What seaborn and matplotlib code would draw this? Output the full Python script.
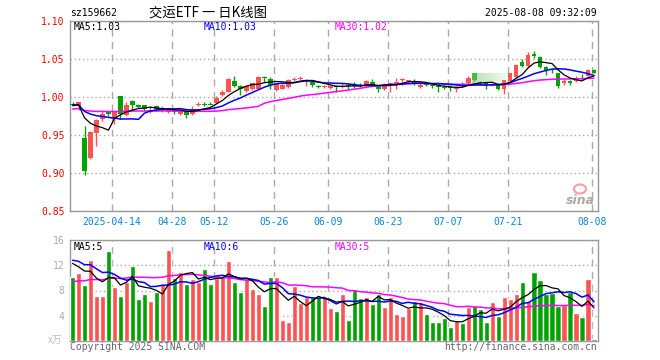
import numpy as np
import pandas as pd
import seaborn as sns
import matplotlib
matplotlib.use("Agg")
import matplotlib.pyplot as plt
from matplotlib.patches import Ellipse

# trading days shown (2025-04-02 .. 2025-08-08, mainland holidays removed)
dates = pd.bdate_range("2025-04-02", "2025-08-08")
holidays = pd.to_datetime(["2025-04-04", "2025-05-01", "2025-05-02", "2025-05-05", "2025-06-02"])
dates = dates[~dates.isin(holidays)]

open_ = [0.991, 0.988, 0.946, 0.920, 0.953, 0.971, 0.981, 0.971, 1.001, 0.976,
         0.995, 0.990, 0.989, 0.980, 0.988, 0.983, 0.980, 0.982, 0.978, 0.980,
         0.977, 0.990, 0.991, 0.991, 0.992, 1.002, 1.007, 1.021, 1.015, 1.008,
         1.010, 1.011, 1.026, 1.024, 1.009, 1.011, 1.013, 1.023, 1.024, 1.021,
         1.020, 1.014, 1.013, 1.012, 1.014, 1.013, 1.016, 1.016, 1.015, 1.016,
         1.020, 1.013, 1.010, 1.016, 1.016, 1.023, 1.021, 1.019, 1.013, 1.017,
         1.016, 1.014, 1.013, 1.013, 1.011, 1.016, 1.018, 1.031, 1.019, 1.018,
         1.015, 1.016, 1.011, 1.021, 1.026, 1.046, 1.041, 1.056, 1.053, 1.040,
         1.036, 1.031, 1.018, 1.021, 1.021, 1.028, 1.028, 1.036]
high = [0.993, 0.994, 0.962, 0.955, 0.971, 0.983, 0.982, 0.981, 1.001, 0.994,
        0.996, 0.991, 0.990, 0.988, 0.989, 0.988, 0.985, 0.983, 0.982, 0.981,
        0.988, 0.994, 0.993, 0.993, 1.001, 1.009, 1.025, 1.028, 1.016, 1.016,
        1.019, 1.027, 1.028, 1.026, 1.018, 1.018, 1.024, 1.026, 1.027, 1.024,
        1.021, 1.016, 1.016, 1.016, 1.016, 1.018, 1.018, 1.020, 1.018, 1.022,
        1.024, 1.016, 1.018, 1.019, 1.025, 1.025, 1.023, 1.024, 1.020, 1.019,
        1.017, 1.017, 1.016, 1.016, 1.015, 1.020, 1.027, 1.032, 1.021, 1.020,
        1.019, 1.018, 1.023, 1.032, 1.043, 1.050, 1.059, 1.061, 1.054, 1.041,
        1.037, 1.032, 1.024, 1.023, 1.028, 1.030, 1.037, 1.037]
low = [0.988, 0.983, 0.897, 0.918, 0.935, 0.969, 0.975, 0.965, 0.971, 0.975,
       0.983, 0.985, 0.981, 0.979, 0.981, 0.980, 0.979, 0.977, 0.976, 0.972,
       0.976, 0.988, 0.988, 0.989, 0.991, 1.001, 1.006, 1.013, 1.002, 1.007,
       1.009, 1.010, 1.020, 1.010, 1.008, 1.010, 1.012, 1.021, 1.022, 1.014,
       1.013, 1.012, 1.012, 1.011, 1.007, 1.012, 1.010, 1.012, 1.013, 1.015,
       1.014, 1.006, 1.009, 1.007, 1.010, 1.016, 1.019, 1.016, 1.012, 1.014,
       1.012, 1.007, 1.010, 1.008, 1.007, 1.013, 1.017, 1.021, 1.016, 1.011,
       1.014, 1.009, 1.004, 1.020, 1.025, 1.040, 1.040, 1.051, 1.038, 1.029,
       1.031, 1.012, 1.016, 1.016, 1.020, 1.023, 1.027, 1.031]
close = [0.989, 0.993, 0.903, 0.954, 0.970, 0.978, 0.977, 0.980, 0.978, 0.989,
         0.990, 0.987, 0.984, 0.983, 0.984, 0.985, 0.984, 0.980, 0.981, 0.976,
         0.984, 0.991, 0.990, 0.990, 0.999, 1.007, 1.024, 1.015, 1.011, 1.014,
         1.018, 1.026, 1.025, 1.016, 1.017, 1.016, 1.022, 1.024, 1.025, 1.022,
         1.016, 1.013, 1.014, 1.015, 1.013, 1.015, 1.015, 1.015, 1.014, 1.021,
         1.016, 1.010, 1.017, 1.018, 1.020, 1.024, 1.022, 1.018, 1.016, 1.016,
         1.014, 1.013, 1.012, 1.012, 1.012, 1.015, 1.025, 1.022, 1.018, 1.015,
         1.017, 1.011, 1.022, 1.031, 1.042, 1.041, 1.055, 1.054, 1.040, 1.036,
         1.035, 1.014, 1.021, 1.019, 1.025, 1.027, 1.035, 1.032]
# volume, 万手
volume = [10.1, 10.8, 8.8, 12.9, 7.2, 7.2, 14.2, 8.5, 7.2, 9.4,
          11.9, 6.7, 7.4, 6.4, 7.7, 9.0, 14.4, 10.0, 11.0, 9.0,
          9.8, 9.3, 11.4, 9.1, 10.0, 10.1, 12.6, 9.3, 7.8, 9.9,
          8.2, 7.5, 5.6, 10.2, 10.1, 3.4, 3.0, 8.7, 6.0, 6.9,
          6.9, 6.9, 6.9, 5.3, 4.8, 7.4, 3.4, 8.2, 6.8, 7.0,
          5.9, 7.5, 5.4, 7.0, 4.3, 4.0, 5.3, 6.4, 6.2, 4.3,
          3.0, 3.0, 3.7, 2.2, 3.4, 2.9, 5.4, 5.6, 5.1, 3.0,
          6.2, 4.0, 6.9, 6.6, 7.4, 9.4, 6.4, 11.0, 9.6, 7.5,
          7.6, 5.6, 5.7, 7.8, 4.5, 3.8, 9.8, 0.3]
# sessions before the window, only needed so the moving averages start filled
pre_close = [0.978, 0.977, 0.979, 0.981, 0.980, 0.982, 0.979, 0.978, 0.980, 0.983,
             0.982, 0.984, 0.985, 0.983, 0.981, 0.982, 0.984, 0.986, 0.985, 0.987,
             0.988, 0.990, 0.989, 0.991, 0.988, 0.990, 0.989, 0.990, 0.988]
pre_volume = [7.2, 8.1, 6.9, 7.5, 8.4, 7.0, 7.9, 8.6, 7.3, 6.8,
              7.7, 8.2, 7.4, 8.0, 7.1, 7.9, 8.3, 7.6, 7.8, 8.3,
              12.6, 14.1, 13.0, 13.8, 13.0, 13.5, 12.2, 13.1, 12.6]

tick_dates = ["2025-04-14", "2025-04-28", "2025-05-12", "2025-05-26", "2025-06-09",
              "2025-06-23", "2025-07-07", "2025-07-21", "2025-08-08"]
tick_labels = ["2025-04-14", "04-28", "05-12", "05-26", "06-09",
               "06-23", "07-07", "07-21", "08-08"]

RED = "#ff5252"
GREEN = "#00a300"
GRID = "#aaaaaa"

n_pre = len(pre_close)
df = pd.DataFrame({"date": dates, "open": open_, "high": high, "low": low,
                   "close": close, "volume": volume})
df["i"] = np.arange(len(df))
df["up"] = df["close"] >= df["open"]
allc = pd.Series(pre_close + close)
allv = pd.Series(pre_volume + volume)
for n in (5, 10, 30):
    df[f"ma{n}"] = allc.rolling(n).mean().iloc[n_pre:].values
    df[f"vma{n}"] = allv.rolling(n).mean().iloc[n_pre:].values

sns.set_theme(style="white")
plt.rcParams["font.family"] = ["DejaVu Sans Mono", "Noto Sans CJK SC"]

W, H = 660, 360
fig = plt.figure(figsize=(6.6, 3.6), dpi=100)
ax1 = fig.add_axes([70 / W, 1 - 211 / H, 528 / W, 190 / H])
ax2 = fig.add_axes([70 / W, 1 - 341 / H, 528 / W, 101 / H])

tick_pos = [df.index[df["date"] == pd.Timestamp(d)][0] - 0.4 for d in tick_dates]

# candles
up = df[df["up"]]
dn = df[~df["up"]]
for part, col in ((up, RED), (dn, GREEN)):
    ax1.vlines(part["i"], part["low"], part["high"], color=col, lw=1, zorder=3)
    body = (part["close"] - part["open"]).abs().clip(lower=0.0012)
    base = part[["open", "close"]].min(axis=1)
    ax1.bar(part["i"], body, bottom=base, width=0.8, color=col, lw=0, zorder=4)

sns.lineplot(data=df, x="i", y="ma30", color="#ff00ff", lw=1.1, ax=ax1, zorder=5)
sns.lineplot(data=df, x="i", y="ma10", color="#0000ff", lw=1.1, ax=ax1, zorder=5)
sns.lineplot(data=df, x="i", y="ma5", color="black", lw=0.9, ax=ax1, zorder=6)

# faded green hover band left over in the screenshot
band = np.zeros((1, 64, 4))
band[0, :, :3] = (0.5, 0.8, 0.5)
band[0, :, 3] = np.linspace(0.6, 0.0, 64)
ax1.imshow(band, extent=(66.6, 73.3, 1.018, 1.031), aspect="auto", zorder=4.5,
           interpolation="bilinear")

# volume bars
df["dir"] = np.where(df["up"], "up", "down")
sns.barplot(data=df, x="i", y="volume", hue="dir", palette={"up": RED, "down": GREEN},
            native_scale=True, width=0.85, saturation=1, legend=False, ax=ax2, zorder=3)
sns.lineplot(data=df, x="i", y="vma30", color="#ff00ff", lw=1.1, ax=ax2, zorder=5)
sns.lineplot(data=df, x="i", y="vma10", color="#0000ff", lw=1.1, ax=ax2, zorder=5)
sns.lineplot(data=df, x="i", y="vma5", color="black", lw=0.9, ax=ax2, zorder=6)

for ax in (ax1, ax2):
    ax.set_xlim(-0.42, len(df) - 0.33)
    ax.set_xlabel("")
    ax.set_ylabel("")
    ax.set_xticks(tick_pos)
    ax.grid(axis="x", color=GRID, lw=1, linestyle=(0, (5, 4)))
    ax.grid(axis="y", color=GRID, lw=1, linestyle=(0, (1, 2)))
    ax.set_axisbelow(True)
    for s in ax.spines.values():
        s.set_color("#999999")
        s.set_linewidth(1)
    ax.tick_params(length=0, labelsize=7)

ax1.set_ylim(0.85, 1.10)
ax1.set_yticks([0.85, 0.90, 0.95, 1.00, 1.05, 1.10])
ax1.set_yticklabels([f"{v:.2f}" for v in [0.85, 0.90, 0.95, 1.00, 1.05, 1.10]])
ax1.tick_params(axis="y", labelcolor="red", pad=4)
ax1.set_xticklabels(tick_labels)
ax1.tick_params(axis="x", labelcolor="#0a84d8", pad=4)

ax2.set_ylim(0, 16)
ax2.set_yticks([4, 8, 12, 16])
ax2.set_yticklabels(["4", "8", "12", "16"])
ax2.tick_params(axis="y", labelcolor="#aaaaaa", pad=4)
ax2.set_xticklabels([])


def px(x, y, s, **kw):
    kw.setdefault("fontsize", 7)
    fig.text(x / W, 1 - y / H, s, va="center", **kw)


last = df.iloc[-1]
px(70, 13, "sz159662", color="black")
px(149, 13, "交运ETF 一 日K线图", color="black", fontsize=9.6,
   family=["Noto Sans CJK SC", "DejaVu Sans"])
px(597, 13, "2025-08-08 09:32:09", color="black", ha="right")
px(74, 27, f"MA5:{last['ma5']:.2f}", color="black")
px(204, 27, f"MA10:{last['ma10']:.2f}", color="#0000ff")
px(335, 27, f"MA30:{last['ma30']:.2f}", color="#ff00ff")
px(74, 247, f"MA5:{int(last['vma5'])}", color="black")
px(204, 247, f"MA10:{int(last['vma10'])}", color="#0000ff")
px(335, 247, f"MA30:{int(last['vma30'])}", color="#ff00ff")
px(48, 340, "x万", color="#bbbbbb", style="italic",
   family=["Noto Sans CJK SC", "DejaVu Sans"])
px(70, 347, "Copyright 2025 SINA.COM", color="#666666")
px(597, 347, "http://finance.sina.com.cn", color="#666666", ha="right")

# sina watermark
px(566, 200, "sina", color="#aaaaaa", fontsize=9, style="italic", weight="bold",
   family=["DejaVu Sans"])
fig.patches.append(Ellipse((580 / W, 1 - 189 / H), 12 / W, 9 / H, transform=fig.transFigure,
                           fill=False, ec="#f4a0a0", lw=1.5))

fig.savefig("out.png", dpi=100)
